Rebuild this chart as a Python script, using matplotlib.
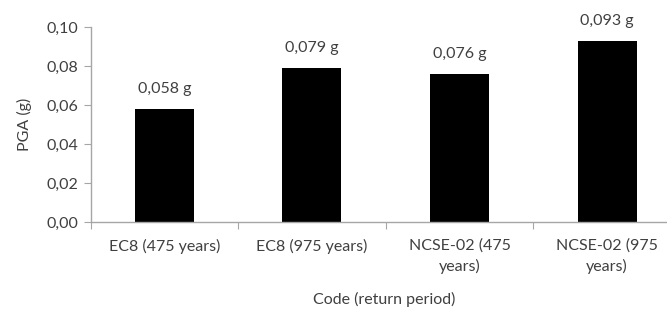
import numpy as np
import matplotlib
matplotlib.use('Agg')
import matplotlib.pyplot as plt

categories = ['EC8 (475 years)', 'EC8 (975 years)', 'NCSE-02 (475\nyears)', 'NCSE-02 (975\nyears)']
pga = [0.058, 0.079, 0.076, 0.093]
labels = ['0,058 g', '0,079 g', '0,076 g', '0,093 g']
yticks = [0.0, 0.02, 0.04, 0.06, 0.08, 0.10]

plt.rcParams['font.family'] = ['Lato', 'DejaVu Sans']
plt.rcParams['font.size'] = 11.5

gray = '#a6a6a6'
txt = '#404040'

fig = plt.figure(figsize=(6.67, 3.09), dpi=100)
ax = fig.add_axes([90.5 / 667, 87 / 309, 590.5 / 667, 195 / 309])

x = np.arange(len(categories))
ax.bar(x, pga, width=0.40, color='black')
for xi, v, lab in zip(x, pga, labels):
    ax.text(xi, v + 0.0082, lab, ha='center', va='baseline', color=txt)

ax.set_xlim(-0.5, len(categories) - 0.5)
ax.set_ylim(0, 0.10)
ax.set_yticks(yticks)
ax.set_yticklabels([f'{t:.2f}'.replace('.', ',') for t in yticks])

ax.set_xticks(np.arange(len(categories) + 1) - 0.5)
ax.set_xticklabels([])
ax.set_xticks(x, minor=True)
ax.set_xticklabels(categories, minor=True, linespacing=1.5)
ax.tick_params(axis='x', which='minor', length=0, pad=12, colors=txt)
ax.tick_params(axis='x', which='major', length=5, color=gray, direction='out')
ax.tick_params(axis='y', length=5, color=gray, labelcolor=txt, pad=4)

for s in ['top', 'right']:
    ax.spines[s].set_visible(False)
for s in ['left', 'bottom']:
    ax.spines[s].set_color(gray)
    ax.spines[s].set_linewidth(1)

ax.set_ylabel('PGA (g)', color=txt, labelpad=10)
fig.text(384 / 667, 1 - 299 / 309, 'Code (return period)', ha='center', va='center', color=txt)

fig.savefig('out.png', dpi=100)
